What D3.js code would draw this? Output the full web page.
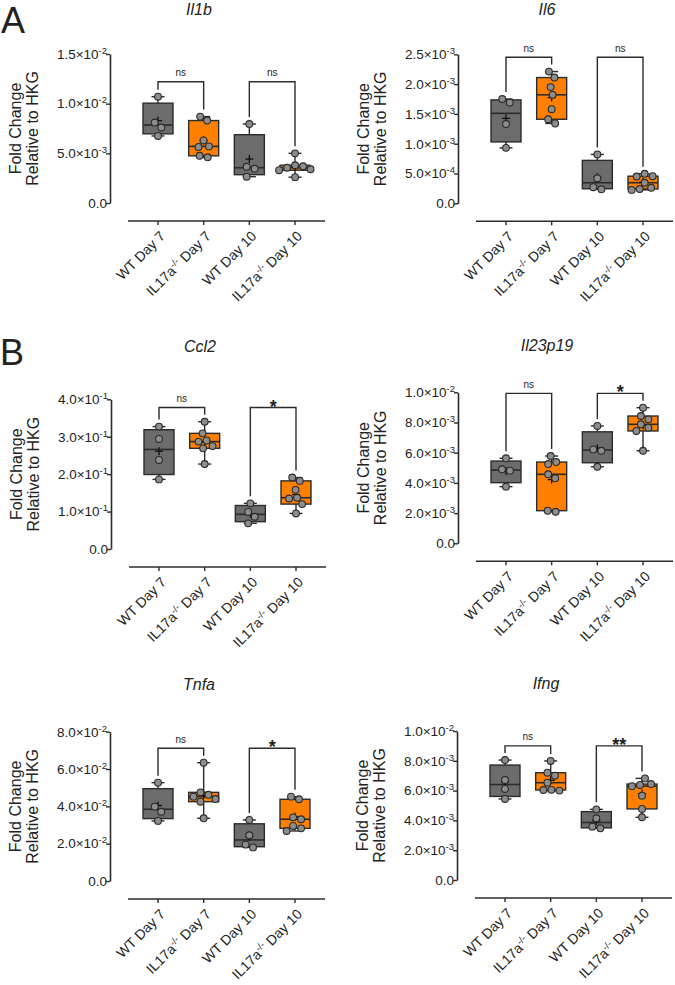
<!DOCTYPE html>
<html><head><meta charset="utf-8">
<script src="https://cdn.jsdelivr.net/npm/d3@7"></script>
<style>
body{margin:0;background:#fff}
text{font-family:"Liberation Sans",Arial,Helvetica,sans-serif;fill:#222}
</style>
</head><body>
<svg id="c" width="675" height="985"></svg>
<script>
// ---------------- DATA ----------------
const categories = ["WT Day 7", "IL17a-/- Day 7", "WT Day 10", "IL17a-/- Day 10"];
const genes = ["Il1b", "Il6", "Ccl2", "Il23p19", "Tnfa", "Ifng"];

const il1bValues = [
  [6.75e-3, 7.6e-3, 8.1e-3, 10.7e-3],
  [4.6e-3, 4.75e-3, 5.65e-3, 5.7e-3, 6.3e-3, 8.3e-3, 8.7e-3],
  [2.65e-3, 3.45e-3, 3.65e-3, 7.95e-3],
  [2.6e-3, 3.3e-3, 3.4e-3, 3.55e-3, 3.7e-3, 3.8e-3, 5.0e-3]
];
const il6Values = [
  [0.93e-3, 1.33e-3, 1.69e-3, 1.75e-3],
  [1.34e-3, 1.41e-3, 1.58e-3, 1.82e-3, 1.95e-3, 2.11e-3, 2.21e-3],
  [0.235e-3, 0.27e-3, 0.42e-3, 0.82e-3],
  [0.225e-3, 0.24e-3, 0.26e-3, 0.345e-3, 0.45e-3, 0.455e-3, 0.495e-3]
];
const ccl2Values = [
  [0.186, 0.238, 0.294, 0.327],
  [0.227, 0.269, 0.275, 0.287, 0.29, 0.309, 0.34],
  [0.0686, 0.0862, 0.099, 0.122],
  [0.095, 0.12, 0.135, 0.137, 0.158, 0.182, 0.191]
];
const il23p19Values = [
  [3.75e-3, 4.81e-3, 4.9e-3, 5.63e-3],
  [2.09e-3, 2.16e-3, 4.3e-3, 4.57e-3, 5.25e-3, 5.38e-3, 5.78e-3],
  [5.07e-3, 6.13e-3, 6.22e-3, 7.77e-3],
  [6.13e-3, 7.44e-3, 7.66e-3, 7.88e-3, 8.21e-3, 8.43e-3, 8.98e-3]
];
const tnfaValues = [
  [0.0322, 0.0371, 0.0398, 0.0527],
  [0.0336, 0.0425, 0.0439, 0.0452, 0.0462, 0.0475, 0.0634],
  [0.018, 0.0195, 0.0245, 0.0327],
  [0.0268, 0.0282, 0.0295, 0.0331, 0.0341, 0.0438, 0.0452]
];
const ifngValues = [
  [5.44e-3, 6.11e-3, 6.71e-3, 8.05e-3],
  [6.0e-3, 6.04e-3, 6.05e-3, 6.53e-3, 7.0e-3, 7.2e-3, 7.99e-3],
  [3.47e-3, 3.58e-3, 4.14e-3, 4.74e-3],
  [4.21e-3, 4.77e-3, 5.66e-3, 6.3e-3, 6.38e-3, 6.44e-3, 6.82e-3]
];
const allValues = [il1bValues, il6Values, ccl2Values, il23p19Values, tnfaValues, ifngValues];

const yMaxes = [0.015, 0.0025, 0.4, 0.01, 0.08, 0.01];
const yTicks = [
  [0, 0.005, 0.01, 0.015],
  [0, 0.0005, 0.001, 0.0015, 0.002, 0.0025],
  [0, 0.1, 0.2, 0.3, 0.4],
  [0, 0.002, 0.004, 0.006, 0.008, 0.01],
  [0, 0.02, 0.04, 0.06, 0.08],
  [0, 0.002, 0.004, 0.006, 0.008, 0.01]
];
const bracketLevels = [0.0122, 0.00245, 0.378, 0.00993, 0.0711, 0.009];
const bracketLabels = [["ns", "ns"], ["ns", "ns"], ["ns", "*"], ["ns", "*"], ["ns", "*"], ["ns", "**"]];
const comparisons = [[0, 1], [2, 3]];
const panelLetters = ["A", "B"];

// ---------------- LAYOUT / STYLE ----------------
const layout = [
  {ax: 110, top: 54, bottom: 203, titleY: 15},
  {ax: 458, top: 54.3, bottom: 203.3, titleY: 15},
  {ax: 111, top: 399.3, bottom: 549, titleY: 352},
  {ax: 458, top: 392.3, bottom: 543.3, titleY: 351},
  {ax: 110, top: 731.7, bottom: 881, titleY: 690},
  {ax: 457, top: 731, bottom: 880, titleY: 689}
];
const letterPos = [{x: 1, y: 33}, {x: 0, y: 365}];
const boxFill = ["#6c6c6c", "#ff8000", "#6c6c6c", "#ff8000"];
const ink = "#2b2b2b";

const svg = d3.select("#c");

function q6(sorted, p) {
  const n = sorted.length;
  const h = (n + 1) * p;
  if (h <= 1) return sorted[0];
  if (h >= n) return sorted[n - 1];
  const lo = Math.floor(h);
  return sorted[lo - 1] + (h - lo) * (sorted[lo] - sorted[lo - 1]);
}

function fmtTick(v) {
  if (v === 0) return {m: "0.0", e: null};
  const e = Math.floor(Math.log10(v) + 1e-9);
  const m = v / Math.pow(10, e);
  return {m: m.toFixed(1) + "\u00d710", e: String(e)};
}

function swarm(vals, y, D) {
  const pts = vals.map(v => ({v, py: y(v), dx: 0})).sort((a, b) => a.py - b.py);
  const placed = [];
  for (const p of pts) {
    let chosen = 0;
    outer: for (let o = 0; o <= 40; o += 0.5) {
      for (const s of (o === 0 ? [0] : [o, -o])) {
        if (placed.every(q => Math.hypot(q.dx - s, q.py - p.py) >= D)) { chosen = s; break outer; }
      }
    }
    p.dx = chosen;
    placed.push(p);
  }
  let cluster = [pts[0]];
  const clusters = [];
  for (let i = 1; i < pts.length; i++) {
    if (pts[i].py - pts[i - 1].py < D) cluster.push(pts[i]);
    else { clusters.push(cluster); cluster = [pts[i]]; }
  }
  clusters.push(cluster);
  clusters.forEach(c => { const m = d3.mean(c, d => d.dx); c.forEach(d => d.dx -= m); });
  return pts;
}

genes.forEach((gene, gi) => {
  const L = layout[gi];
  const g = svg.append("g");
  const y = d3.scaleLinear().domain([0, yMaxes[gi]]).range([L.bottom, L.top]);
  const x = d3.scalePoint().domain(categories).range([L.ax + 48, L.ax + 185]);
  const axisY = L.bottom + 18;

  g.append("text").attr("x", L.ax + 89).attr("y", L.titleY)
    .attr("text-anchor", "middle").attr("font-size", 16).attr("font-style", "italic")
    .text(gene);

  const cy = (L.top + L.bottom) / 2;
  g.append("text").attr("transform", `translate(${L.ax - 89},${cy}) rotate(-90)`)
    .attr("text-anchor", "middle").attr("font-size", 16).text("Fold Change");
  g.append("text").attr("transform", `translate(${L.ax - 72},${cy}) rotate(-90)`)
    .attr("text-anchor", "middle").attr("font-size", 16).text("Relative to HKG");

  const ya = g.append("g").attr("transform", `translate(${L.ax},0)`)
    .call(d3.axisLeft(y).tickValues(yTicks[gi]).tickSize(4).tickSizeOuter(0).tickFormat(""));
  ya.select(".domain").attr("stroke", ink).attr("stroke-width", 1.6);
  ya.selectAll(".tick line").attr("stroke", ink).attr("stroke-width", 1.4);
  yTicks[gi].forEach(v => {
    const f = fmtTick(v);
    const t = g.append("text").attr("x", L.ax - 3).attr("y", y(v) + 4.8)
      .attr("text-anchor", "end").attr("font-size", 13.5);
    t.append("tspan").text(f.m);
    if (f.e) t.append("tspan").attr("dy", -5).attr("font-size", 9.5).text(f.e);
  });

  g.append("line").attr("x1", L.ax + 18).attr("x2", L.ax + 215)
    .attr("y1", axisY).attr("y2", axisY).attr("stroke", ink).attr("stroke-width", 1.6);
  categories.forEach(c => {
    g.append("line").attr("x1", x(c)).attr("x2", x(c)).attr("y1", axisY).attr("y2", axisY + 4)
      .attr("stroke", ink).attr("stroke-width", 1.4);
    const t = g.append("text")
      .attr("transform", `translate(${x(c) + 1},${axisY + 9}) rotate(-45)`)
      .attr("text-anchor", "end").attr("dy", "0.71em").attr("font-size", 14);
    if (c.startsWith("IL17a")) {
      t.append("tspan").text("IL17a");
      t.append("tspan").attr("dy", -5).attr("font-size", 9.5).text("-/-");
      t.append("tspan").attr("dy", 5).text(c.replace("IL17a-/-", ""));
    } else {
      t.text(c);
    }
  });

  const vals = allValues[gi];
  const bw = 30, cw = 13;
  categories.forEach((c, ci) => {
    const s = vals[ci].slice().sort(d3.ascending);
    const q1 = q6(s, 0.25), med = q6(s, 0.5), q3 = q6(s, 0.75);
    const mn = s[0], mx = s[s.length - 1], mean = d3.mean(s);
    const cx = x(c);
    const bg = g.append("g");
    bg.append("line").attr("x1", cx).attr("x2", cx).attr("y1", y(mx)).attr("y2", y(mn))
      .attr("stroke", ink).attr("stroke-width", 1.4);
    [mn, mx].forEach(v => bg.append("line").attr("x1", cx - cw / 2).attr("x2", cx + cw / 2)
      .attr("y1", y(v)).attr("y2", y(v)).attr("stroke", ink).attr("stroke-width", 1.4));
    bg.append("rect").attr("x", cx - bw / 2).attr("width", bw)
      .attr("y", y(q3)).attr("height", y(q1) - y(q3))
      .attr("fill", boxFill[ci]).attr("stroke", ink).attr("stroke-width", 1.4);
    bg.append("line").attr("x1", cx - bw / 2).attr("x2", cx + bw / 2)
      .attr("y1", y(med)).attr("y2", y(med)).attr("stroke", ink).attr("stroke-width", 1.6);
    bg.append("line").attr("x1", cx - 4).attr("x2", cx + 4).attr("y1", y(mean)).attr("y2", y(mean))
      .attr("stroke", "#111").attr("stroke-width", 1.3);
    bg.append("line").attr("x1", cx).attr("x2", cx).attr("y1", y(mean) - 4).attr("y2", y(mean) + 4)
      .attr("stroke", "#111").attr("stroke-width", 1.3);
    swarm(vals[ci], y, 8).forEach(p => {
      bg.append("circle").attr("cx", cx + p.dx).attr("cy", p.py).attr("r", 3.4)
        .attr("fill", "#8d8d8d").attr("stroke", ink).attr("stroke-width", 1.1);
    });
  });

  comparisons.forEach((cmp, k) => {
    const [a, b] = cmp;
    const yl = y(bracketLevels[gi]);
    const ea = y(d3.max(vals[a])) - 7, eb = y(d3.max(vals[b])) - 7;
    const xa = x(categories[a]), xb = x(categories[b]);
    g.append("path").attr("d", `M${xa},${ea}V${yl}H${xb}V${eb}`)
      .attr("fill", "none").attr("stroke", ink).attr("stroke-width", 1.4);
    const lab = bracketLabels[gi][k];
    if (lab === "ns") {
      g.append("text").attr("x", (xa + xb) / 2).attr("y", yl - 5.5)
        .attr("text-anchor", "middle").attr("font-size", 10).text(lab);
    } else {
      g.append("text").attr("x", (xa + xb) / 2).attr("y", yl + 5)
        .attr("text-anchor", "middle").attr("font-size", 18).attr("font-weight", "bold").text(lab);
    }
  });
});

panelLetters.forEach((l, i) => {
  svg.append("text").attr("x", letterPos[i].x).attr("y", letterPos[i].y)
    .attr("font-size", 36).text(l);
});
</script>
</body></html>
